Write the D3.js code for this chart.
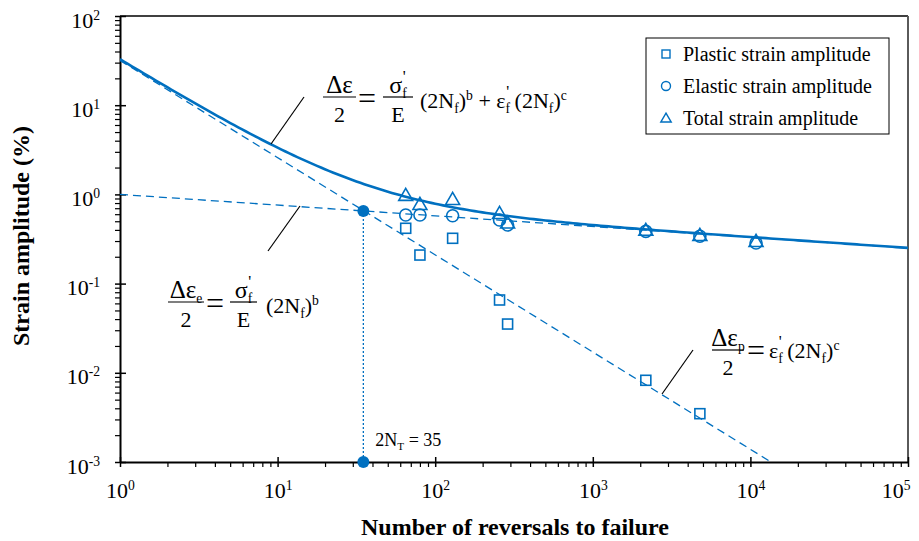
<!DOCTYPE html>
<html>
<head>
<meta charset="utf-8">
<script src="https://cdn.jsdelivr.net/npm/d3@7"></script>
<style>
  body { margin: 0; background: #fff; }
  svg, svg text { font-family: "Times New Roman", "Liberation Serif", Times, "DejaVu Serif", serif; }
</style>
</head>
<body>
<svg id="chart" width="919" height="541"></svg>
<script>
// Specimens: reversals to failure (2Nf) and measured strain amplitudes (%)
const reversals  = [65, 80, 129, 256, 288, 2170, 4780, 10860];
const plasticAmp = [0.417, 0.209, 0.322, 0.0655, 0.0352, 0.00824, 0.00348, null];
const elasticAmp = [0.587, 0.587, 0.577, 0.516, 0.454, 0.385, 0.340, 0.285];
const totalAmp   = [0.984, 0.780, 0.887, 0.618, 0.482, 0.400, 0.350, 0.300];

// Basquin (elastic) and Coffin-Manson (plastic) constants, strain in %
const sigmaOverE = 1.0;
const bExp = -0.12;
const epsF = 31.8;
const cExp = -1.09;
const transitionLife = 35;

const xTicks = [1, 10, 100, 1000, 10000, 100000];
const yTicks = [0.001, 0.01, 0.1, 1, 10, 100];
const legendLabels = ["Plastic strain amplitude", "Elastic strain amplitude", "Total strain amplitude"];
const xTitle = "Number of reversals to failure";
const yTitle = "Strain amplitude (%)";

const BLUE = "#0070C0";
const SERIF = "'Times New Roman', 'Liberation Serif', Times, 'DejaVu Serif', serif";
const svg = d3.select("#chart").attr("font-family", SERIF);
const L = 120, R = 908, T = 16, B = 462;

const x = d3.scaleLog().domain([1, 1e5]).range([L, R]);
const y = d3.scaleLog().domain([1e-3, 1e2]).range([B, T]);

const elastic = n => sigmaOverE * Math.pow(n, bExp);
const plastic = n => epsF * Math.pow(n, cExp);
const total = n => elastic(n) + plastic(n);

// rich text with subscripts, superscripts and primes
function rich(g, px, py, parts, fs, anchor) {
  const t = g.append("text").attr("x", px).attr("y", py).attr("font-family", SERIF)
    .attr("font-size", fs).attr("text-anchor", anchor || "start").attr("fill", "#000");
  let off = 0;
  parts.forEach(p => {
    let target = 0, size = p.size || fs;
    if (p.s === "sub") { target = fs * 0.22; size = fs * 0.62; }
    else if (p.s === "sup") { target = -fs * 0.36; size = fs * 0.62; }
    else if (p.s === "prime") { target = -fs * 0.5; size = fs * 0.75; }
    const ts = t.append("tspan").attr("dy", target - off).attr("font-size", size).text(p.t);
    if (p.dx) ts.attr("dx", p.dx);
    off = target;
  });
  return t;
}

function fraction(g, x0, x1, barY, num, den, fs) {
  const cx = (x0 + x1) / 2;
  rich(g, cx, barY - 4, num, fs, "middle");
  g.append("line").attr("x1", x0).attr("x2", x1).attr("y1", barY).attr("y2", barY)
    .attr("stroke", "#000").attr("stroke-width", 1.2);
  rich(g, cx, barY + 25, den, fs, "middle");
}

// clip for the plotted curves
svg.append("defs").append("clipPath").attr("id", "plotArea")
  .append("rect").attr("x", L).attr("y", T).attr("width", R - L).attr("height", B - T);

// frame
svg.append("line").attr("x1", L).attr("x2", R).attr("y1", T).attr("y2", T)
  .attr("stroke", "#000").attr("stroke-width", 1.5);
svg.append("line").attr("x1", R).attr("x2", R).attr("y1", T).attr("y2", B)
  .attr("stroke", "#5a5a5a").attr("stroke-width", 2);

// minor tick values
const minorX = [], minorY = [];
for (let d = 0; d < 5; d++) for (let k = 2; k <= 9; k++) minorX.push(k * Math.pow(10, d));
for (let d = -3; d < 2; d++) for (let k = 2; k <= 9; k++) minorY.push(k * Math.pow(10, d));

// x axis
const gx = svg.append("g").attr("transform", `translate(0,${B})`);
gx.append("g").call(d3.axisBottom(x).tickValues(minorX).tickSize(5).tickSizeOuter(0).tickFormat(""))
  .call(g => g.select(".domain").remove())
  .call(g => g.selectAll(".tick line").attr("stroke", "#000").attr("stroke-width", 1.2));
const xMajor = gx.append("g").call(d3.axisBottom(x).tickValues(xTicks).tickSize(5).tickSizeOuter(0).tickFormat(""));
xMajor.select(".domain").attr("stroke", "#000").attr("stroke-width", 2);
xMajor.selectAll(".tick line").attr("stroke", "#000").attr("stroke-width", 1.5).attr("y1", -5);
xMajor.selectAll(".tick").each(function (d, i) {
  const e = Math.round(Math.log10(d));
  const last = i === xTicks.length - 1;
  rich(d3.select(this), last ? 2 : 0, 36, [{ t: "10" }, { t: String(e), s: "sup" }], 22, last ? "end" : "middle");
});

// y axis
const gy = svg.append("g").attr("transform", `translate(${L},0)`);
gy.append("g").call(d3.axisLeft(y).tickValues(minorY).tickSize(5).tickSizeOuter(0).tickFormat(""))
  .call(g => g.select(".domain").remove())
  .call(g => g.selectAll(".tick line").attr("stroke", "#000").attr("stroke-width", 1.2));
const yMajor = gy.append("g").call(d3.axisLeft(y).tickValues(yTicks).tickSize(5).tickSizeOuter(0).tickFormat(""));
yMajor.select(".domain").attr("stroke", "#000").attr("stroke-width", 2);
yMajor.selectAll(".tick line").attr("stroke", "#000").attr("stroke-width", 1.5).attr("x1", 6);
yMajor.selectAll(".tick").each(function (d) {
  const e = Math.round(Math.log10(d));
  rich(d3.select(this), -20, 11, [{ t: "10" }, { t: String(e), s: "sup" }], 22, "end");
});

// axis titles
svg.append("text").attr("x", 515).attr("y", 535).attr("text-anchor", "middle").attr("font-family", SERIF)
  .attr("font-size", 24).attr("font-weight", "bold").text(xTitle);
svg.append("text").attr("transform", "translate(29,236) rotate(-90)").attr("text-anchor", "middle")
  .attr("font-family", SERIF).attr("font-size", 24).attr("font-weight", "bold").text(yTitle);

// fitted life curves
const plot = svg.append("g").attr("clip-path", "url(#plotArea)");
const samples = d3.range(0, 5.0001, 0.025).map(e => Math.pow(10, e));
const line = d3.line().x(d => x(d[0])).y(d => y(d[1]));

plot.append("path").datum([1, 1e5].map(n => [n, elastic(n)])).attr("d", line)
  .attr("fill", "none").attr("stroke", BLUE).attr("stroke-width", 1.3).attr("stroke-dasharray", "8,5");
plot.append("path").datum([1, 1e5].map(n => [n, plastic(n)])).attr("d", line)
  .attr("fill", "none").attr("stroke", BLUE).attr("stroke-width", 1.3).attr("stroke-dasharray", "8,5");
plot.append("path").datum(samples.map(n => [n, total(n)])).attr("d", line)
  .attr("fill", "none").attr("stroke", BLUE).attr("stroke-width", 2.6);

// transition life
const yT = elastic(transitionLife);
svg.append("line").attr("x1", x(transitionLife)).attr("x2", x(transitionLife))
  .attr("y1", y(yT)).attr("y2", y(1e-3))
  .attr("stroke", BLUE).attr("stroke-width", 1.3).attr("stroke-dasharray", "2,2");
svg.selectAll("circle.tp").data([yT, 1e-3]).join("circle").attr("class", "tp")
  .attr("cx", x(transitionLife)).attr("cy", d => y(d)).attr("r", 6).attr("fill", BLUE);
rich(svg, x(transitionLife) + 12, 446,
  [{ t: "2N" }, { t: "T", s: "sub" }, { t: " = " + transitionLife }], 18);

// specimen markers
const pts = svg.append("g").attr("fill", "none").attr("stroke", BLUE).attr("stroke-width", 1.6);
const triPath = s => `M0,${-s * 0.55}L${s * 0.58},${s * 0.45}L${-s * 0.58},${s * 0.45}Z`;
pts.selectAll("rect").data(reversals.map((n, i) => [n, plasticAmp[i]]).filter(d => d[1] != null))
  .join("rect").attr("x", d => x(d[0]) - 5).attr("y", d => y(d[1]) - 5).attr("width", 10).attr("height", 10);
pts.selectAll("circle").data(reversals.map((n, i) => [n, elasticAmp[i]]))
  .join("circle").attr("cx", d => x(d[0])).attr("cy", d => y(d[1])).attr("r", 6);
pts.selectAll("path").data(reversals.map((n, i) => [n, totalAmp[i]]))
  .join("path").attr("d", triPath(12)).attr("transform", d => `translate(${x(d[0])},${y(d[1])})`);

// legend
const lg = svg.append("g");
lg.append("rect").attr("x", 646).attr("y", 38).attr("width", 243).attr("height", 96)
  .attr("fill", "#fff").attr("stroke", "#000").attr("stroke-width", 1);
const lgMarks = lg.append("g").attr("fill", "none").attr("stroke", BLUE).attr("stroke-width", 1.4);
legendLabels.forEach((lab, i) => {
  const cy = 54 + i * 32;
  if (i === 0) lgMarks.append("rect").attr("x", 662).attr("y", cy - 4).attr("width", 8).attr("height", 8);
  if (i === 1) lgMarks.append("circle").attr("cx", 666).attr("cy", cy).attr("r", 4.5);
  if (i === 2) lgMarks.append("path").attr("d", triPath(9)).attr("transform", `translate(666,${cy})`);
  lg.append("text").attr("x", 683).attr("y", cy + 7).attr("font-family", SERIF).attr("font-size", 20).text(lab);
});

// equations and leader lines
const eq = svg.append("g");
const lead = (x1, y1, x2, y2) => eq.append("line").attr("x1", x1).attr("y1", y1).attr("x2", x2).attr("y2", y2)
  .attr("stroke", "#000").attr("stroke-width", 1.2);
lead(271, 144, 304, 97);
lead(300, 206, 268, 251);
lead(693, 350, 662, 394);

const sigF = [{ t: "σ", size: 24 }, { t: "f", s: "sub" }, { t: "'", s: "prime", dx: -4 }];
const epsFp = [{ t: "ε" }, { t: "f", s: "sub" }, { t: "'", s: "prime", dx: -4 }];
const equals = (px, py) => rich(eq, px, py, [{ t: "=" }], 32);

// total strain
fraction(eq, 323, 356, 97, [{ t: "Δε", size: 25 }], [{ t: "2" }], 22);
equals(358, 109);
fraction(eq, 383, 413, 97, sigF, [{ t: "E" }], 22);
rich(eq, 420, 108, [{ t: "(2N" }, { t: "f", s: "sub" }, { t: ")" }, { t: "b", s: "sup" },
  { t: " + " }, ...epsFp, { t: " (2N" }, { t: "f", s: "sub" }, { t: ")" }, { t: "c", s: "sup" }], 22);

// elastic strain
fraction(eq, 168, 204, 302, [{ t: "Δε", size: 25 }, { t: "e", s: "sub" }], [{ t: "2" }], 22);
equals(206, 314);
fraction(eq, 230, 257, 302, sigF, [{ t: "E" }], 22);
rich(eq, 266, 313, [{ t: "(2N" }, { t: "f", s: "sub" }, { t: ")" }, { t: "b", s: "sup" }], 22);

// plastic strain
fraction(eq, 712, 744, 350, [{ t: "Δε", size: 25 }, { t: "p", s: "sub" }], [{ t: "2" }], 22);
equals(747, 361);
rich(eq, 769, 358, [...epsFp, { t: " (2N" }, { t: "f", s: "sub" }, { t: ")" }, { t: "c", s: "sup" }], 22);
</script>
</body>
</html>
